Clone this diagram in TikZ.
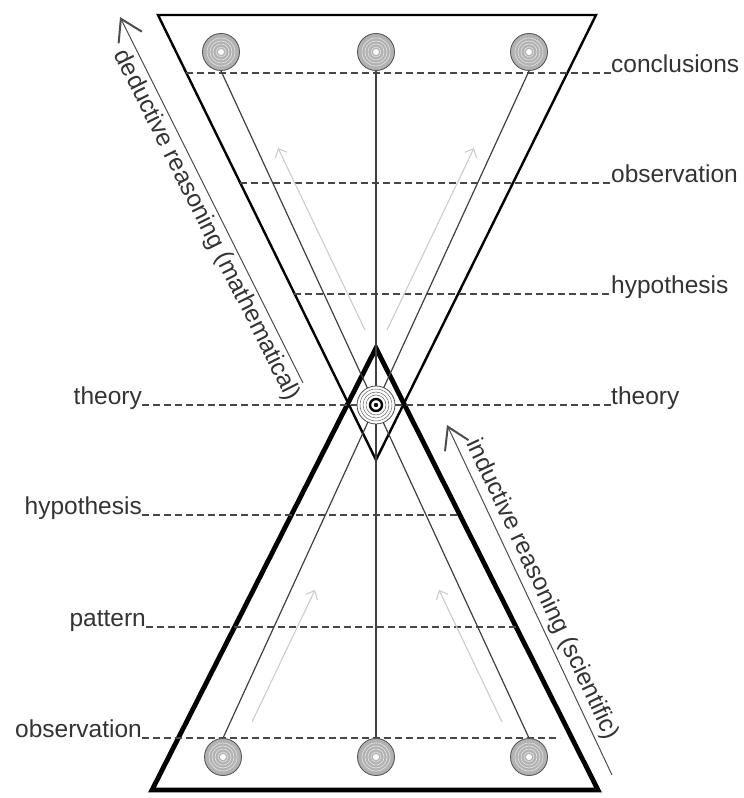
\documentclass[tikz,border=0pt]{standalone}
\usepackage{fontspec}
\setmainfont{Liberation Sans}
\usetikzlibrary{arrows.meta}
\definecolor{cInk}{HTML}{333333}
\definecolor{cDisc}{HTML}{B2B2B2}
\definecolor{cFlow}{HTML}{CCCCCC}

\begin{document}
\begin{tikzpicture}[
  x=1pt, y=1pt,
  disc/.style={circle, minimum size=37pt, inner sep=0pt, fill=cDisc, draw=black!65, line width=0.9pt,
    path picture={
      \foreach \r in {5,8,11,14}
        \draw[white!65!cDisc, line width=0.6pt] (path picture bounding box.center) circle (\r pt);
      \fill[white] (path picture bounding box.center) circle (3pt);}},
  hub/.style={circle, minimum size=38pt, inner sep=0pt, fill=white, draw=black!70, line width=0.8pt,
    path picture={
      \foreach \r in {10,13,16}
        \draw[black!60, line width=0.5pt] (path picture bounding box.center) circle (\r pt);
      \draw[black, line width=2.4pt] (path picture bounding box.center) circle (6pt);
      \fill[black] (path picture bounding box.center) circle (2.2pt);}},
  level/.style={font=\fontsize{24.5}{28}\selectfont, text=cInk, inner sep=0pt},
  guide/.style={draw=black!72, line width=1.1pt, dash pattern=on 7pt off 4pt},
  link/.style={draw=black!75, line width=1.2pt},
  flow/.style={-{Straight Barb[length=7pt, width=13pt]}, draw=cFlow, line width=1.1pt},
  reason/.style={-{Straight Barb[length=21pt, width=26pt, line width=2pt]}, draw=black!70, line width=1pt},
]
\useasboundingbox (0,0) rectangle (744,798);

% ---- the two triangles ----
\draw[line width=2.4pt] (158,783) -- (596,783) -- (376,338) -- cycle;
\draw[line width=4.8pt] (152,8) -- (598,8) -- (376,450) -- cycle;

% ---- levels, right side ----
\node[level, anchor=base west] (rc) at (611,725) {conclusions};
\node[level, anchor=base west] (ro) at (611,615) {observation};
\node[level, anchor=base west] (rh) at (611,504) {hypothesis};
\node[level, anchor=base west] (rt) at (611,393) {theory};

% ---- levels, left side ----
\node[level, anchor=base east] (lt) at (142,393) {theory};
\node[level, anchor=base east] (lh) at (142,283) {hypothesis};
\node[level, anchor=base east] (lp) at (146,171) {pattern};
\node[level, anchor=base east] (lo) at (142,60) {observation};

\coordinate (ec) at (186,725);
\coordinate (eo) at (240,615);
\coordinate (eh) at (294,504);
\coordinate (fh) at (459,283);
\coordinate (fp) at (516,171);
\coordinate (fo) at (560,60);

\draw[guide] (ec) -- (rc.base west);
\draw[guide] (eo) -- (ro.base west);
\draw[guide] (eh) -- (rh.base west);
\draw[guide] (lt.base east) -- (rt.base west);
\draw[guide] (lh.base east) -- (fh);
\draw[guide] (lp.base east) -- (fp);
\draw[guide] (lo.base east) -- (fo);

% ---- discs ----
\node[disc] (t1) at (221,746) {};
\node[disc] (t2) at (376,746) {};
\node[disc] (t3) at (529,746) {};
\node[disc] (b1) at (223,41) {};
\node[disc] (b2) at (376,41) {};
\node[disc] (b3) at (529,41) {};

\draw[link] (t1.south) -- (b3.north);
\draw[link] (t3.south) -- (b1.north);
\draw[link] (t2.south) -- (b2.north);

\node[hub] (hc) at (376,393) {};

% ---- grey flow arrows ----
\coordinate (f1a) at (365,468); \coordinate (f1b) at (278,650);
\coordinate (f2a) at (387,468); \coordinate (f2b) at (474,650);
\coordinate (f3a) at (252,76);  \coordinate (f3b) at (315,208);
\coordinate (f4a) at (502,76);  \coordinate (f4b) at (439,208);
\draw[flow] (f1a) -- (f1b);
\draw[flow] (f2a) -- (f2b);
\draw[flow] (f3a) -- (f3b);
\draw[flow] (f4a) -- (f4b);

% ---- reasoning arrows ----
\coordinate (dtail) at (303,415); \coordinate (dtip) at (120,781);
\coordinate (itail) at (612,23);  \coordinate (itip) at (447,373);
\draw[reason] (dtail) -- node[level, pos=0.45, rotate=-63.4, anchor=north, inner sep=4pt] (dlab)
  {deductive reasoning (mathematical)} (dtip);
\draw[reason] (itail) -- node[level, pos=0.51, rotate=-64.8, anchor=south, inner sep=4pt] (ilab)
  {inductive reasoning (scientific)} (itip);

\end{tikzpicture}
\end{document}
